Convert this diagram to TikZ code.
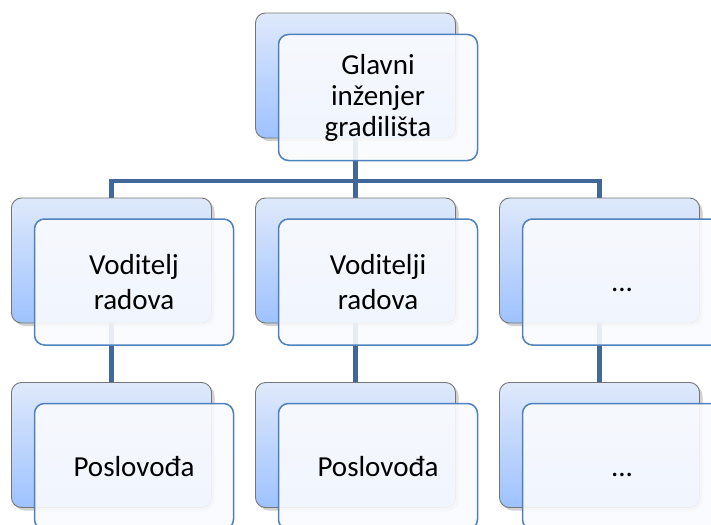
\documentclass[tikz,border=0pt]{standalone}
\usepackage{fontspec}
\setmainfont{Carlito}
\usetikzlibrary{shadows}
\pgfdeclarelayer{bg}
\pgfsetlayers{bg,main}
\definecolor{conncol}{RGB}{66,104,154}
\definecolor{backtop}{RGB}{223,233,251}
\definecolor{backbot}{RGB}{158,194,255}
\definecolor{backline}{RGB}{118,118,118}
\definecolor{frontfill}{RGB}{250,251,254}
\definecolor{frontline}{RGB}{79,129,189}
\tikzset{
  backbox/.style={rectangle, rounded corners=10pt, draw=backline, line width=0.9pt,
    top color=backtop, bottom color=backbot, minimum width=200pt, minimum height=125pt,
    inner sep=0pt, drop shadow={shadow xshift=3pt, shadow yshift=-3pt, opacity=0.3, fill=black!60}},
  frontbox/.style={rectangle, rounded corners=10pt, draw=frontline, line width=1.5pt,
    fill=frontfill, fill opacity=0.9, text opacity=1, minimum width=199pt, minimum height=126pt,
    inner sep=0pt, align=center, font=\fontsize{29}{35}\selectfont},
  conn/.style={draw=conncol, line width=4.5pt}
}
\begin{document}
\begin{tikzpicture}[x=1pt,y=-1pt]
\path[use as bounding box] (0,0) rectangle (711,524);
\clip (0,0) rectangle (711,524);
% back boxes
\node[backbox] (b0) at (355.5,75.5) {};
\node[backbox] (b1) at (111.5,260.5) {};
\node[backbox] (b2) at (355.5,260.5) {};
\node[backbox] (b3) at (599.5,260.5) {};
\node[backbox] (c1) at (111.5,445) {};
\node[backbox] (c2) at (355.5,445) {};
\node[backbox] (c3) at (599.5,445) {};
\coordinate (busy) at (0,181);
% front boxes
\node[frontbox, font=\fontsize{29}{31}\selectfont] (f0) at (378,97.5) {Glavni\\inženjer\\gradilišta};
\node[frontbox] (f1) at (134,282) {Voditelj\\radova};
\node[frontbox] (f2) at (378,282) {Voditelji\\radova};
\node[frontbox] (f3) at (622,282) {\vphantom{l}...};
\node[frontbox] (g1) at (134,466.5) {Poslovođa};
\node[frontbox] (g2) at (378,466.5) {Poslovođa};
\node[frontbox] (g3) at (622,466.5) {\vphantom{l}...};
% connectors
\begin{pgfonlayer}{bg}
\draw[conn] (b0.center) -- (b2.center);
\draw[conn] (b1.center) |- (b0.center |- busy) -| (b3.center);
\draw[conn] (b1.center) -- (c1.center);
\draw[conn] (b2.center) -- (c2.center);
\draw[conn] (b3.center) -- (c3.center);
\end{pgfonlayer}
\end{tikzpicture}
\end{document}
